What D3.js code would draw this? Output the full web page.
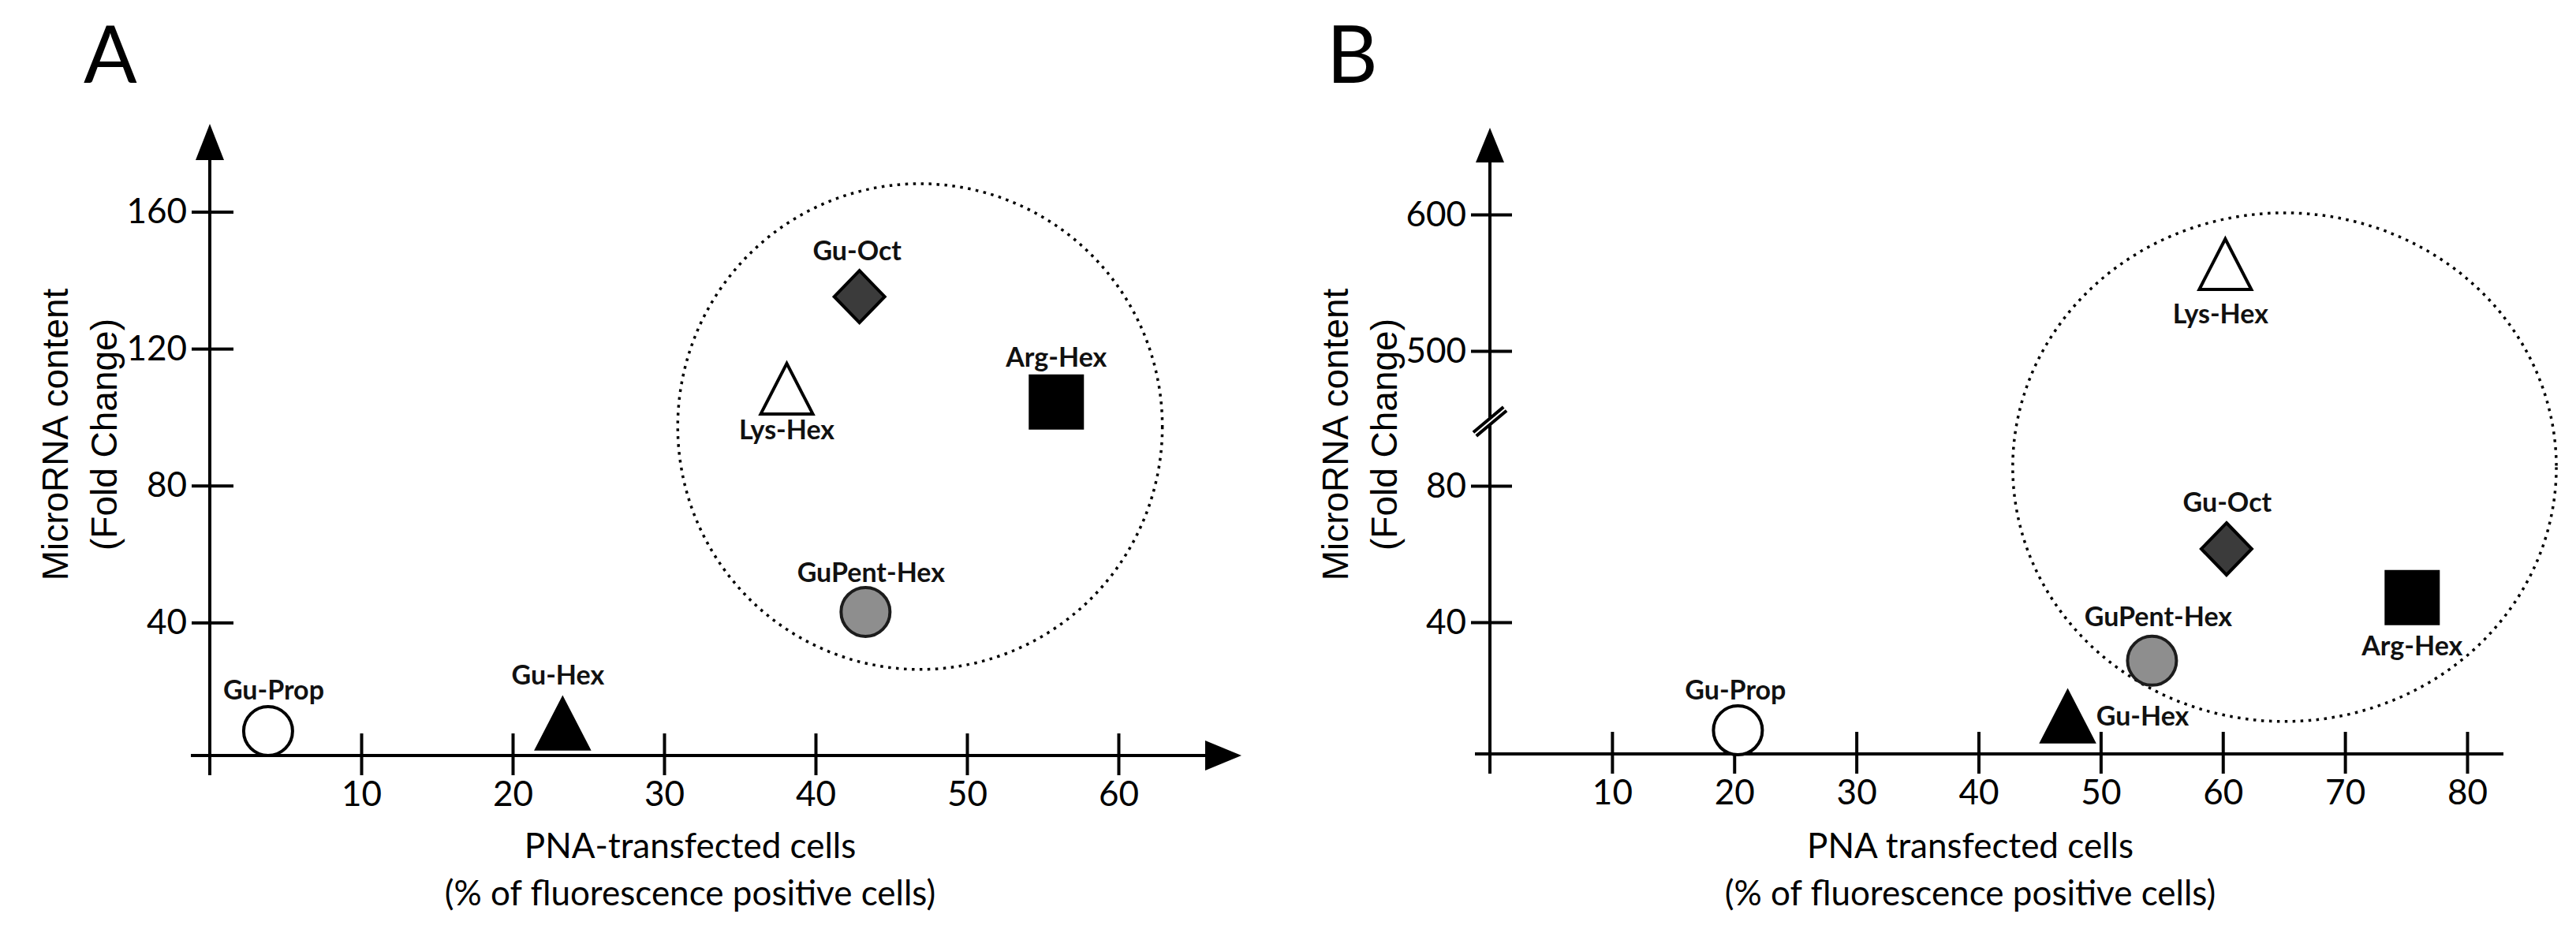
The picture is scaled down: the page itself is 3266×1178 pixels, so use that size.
<!DOCTYPE html>
<html>
<head>
<meta charset="utf-8">
<script src="https://cdn.jsdelivr.net/npm/d3@7"></script>
<style>
  body { margin: 0; background: #fff; }
  .tick text { font-family: Lato, sans-serif; font-size: 44px; fill: #000; }
  .tick line { stroke: #000; stroke-width: 4px; }
  .axis-title { font-family: Lato, sans-serif; font-size: 44px; fill: #000; }
  .y-title { font-family: "Liberation Sans", Arial, sans-serif; font-size: 46px; fill: #000; }
  .panel-letter { font-family: Lato, sans-serif; font-size: 100px; fill: #000; }
  .point-label { font-family: Lato, sans-serif; font-weight: bold; font-size: 34px; fill: #111; }
</style>
</head>
<body>
<svg id="fig" width="3266" height="1178"></svg>
<script>
/* compounds, same order in both panels */
var compounds = ["Gu-Prop", "Gu-Hex", "Lys-Hex", "Gu-Oct", "GuPent-Hex", "Arg-Hex"];

/* panel A values */
var transfectedA = [3.85, 23.3, 38.1, 42.9, 43.3, 55.9];
var foldChangeA = [8.3, 10.4, 108.3, 135.2, 43.1, 104.4];
var xTicksA = [10, 20, 30, 40, 50, 60];
var yTicksA = [40, 80, 120, 160];
var circledA = [30.9, 62.9, 26.3, 168.2]; // x0, x1, y0, y1 (data units)

/* panel B values */
var transfectedB = [20.3, 47.3, 60.2, 60.3, 54.2, 75.5];
var foldChangeB = [8.3, 12.3, 563.6, 61.5, 28.7, 47.2];
var xTicksB = [10, 20, 30, 40, 50, 60, 70, 80];
var yTicksBLow = [40, 80];
var yTicksBHigh = [500, 600];
var circledB = [42.8, 87.3, 10.9, 601.2];

/* marker look + label placement (px, relative to marker) */
var markerShape = ["circle", "triangle", "triangle", "diamond", "circle", "square"];
var markerFill = ["#fff", "#000", "#fff", "#3b3b3b", "#8e8e8e", "#000"];
var labelOffsetA = [[7, -40], [-6, -50], [0, 64], [-3, -46], [7, -38], [0, -45]];
var labelOffsetB = [[-3, -39], [95, 11], [-6, 75], [1, -47], [8, -44], [0, 73]];

var svg = d3.select("#fig");

function markerPath(shape) {
  var p = d3.path();
  if (shape == "triangle") {
    p.moveTo(0, -32); p.lineTo(33, 32); p.lineTo(-33, 32); p.closePath();
  } else if (shape == "diamond") {
    p.moveTo(0, -33); p.lineTo(32, 0); p.lineTo(0, 33); p.lineTo(-32, 0); p.closePath();
  } else if (shape == "square") {
    p.rect(-33, -33, 66, 66);
  } else {
    p.arc(0, 0, 31, 0, 2 * Math.PI);
  }
  return p.toString();
}

function drawPoints(g, xs, ys, xScale, yFn, offsets) {
  var pts = compounds.map((name, i) => ({ name: name, x: xs[i], y: ys[i], i: i }));

  g.selectAll(".mark")
    .data(pts)
    .enter()
    .append("path")
    .attr("class", "mark")
    .attr("transform", d => `translate(${xScale(d.x)}, ${yFn(d.y)})`)
    .attr("d", d => markerPath(markerShape[d.i]))
    .style("fill", d => markerFill[d.i])
    .style("stroke", d => (d.i == 4 ? "#1c1c1c" : "#000"))
    .style("stroke-width", 4);

  g.selectAll(".point-label")
    .data(pts)
    .enter()
    .append("text")
    .attr("class", "point-label")
    .attr("text-anchor", "middle")
    .attr("x", d => xScale(d.x) + offsets[d.i][0])
    .attr("y", d => yFn(d.y) + offsets[d.i][1])
    .text(d => d.name);
}

function dottedEllipse(g, box, xScale, yFn) {
  var x0 = xScale(box[0]), x1 = xScale(box[1]);
  var y0 = yFn(box[2]), y1 = yFn(box[3]);
  g.append("ellipse")
    .attr("cx", (x0 + x1) / 2)
    .attr("cy", (y0 + y1) / 2)
    .attr("rx", Math.abs(x1 - x0) / 2)
    .attr("ry", Math.abs(y1 - y0) / 2)
    .style("fill", "none")
    .style("stroke", "#000")
    .style("stroke-width", 3.5)
    .style("stroke-dasharray", "3.5 6.5");
}

function xTitle(g, cx, lines) {
  g.selectAll(".axis-title.x")
    .data(lines)
    .enter()
    .append("text")
    .attr("class", "axis-title x")
    .attr("text-anchor", "middle")
    .attr("x", cx)
    .attr("y", (d, i) => 1088 + i * 60)
    .text(d => d);
}

function yTitle(g, axisX, cy) {
  g.append("text")
    .attr("class", "y-title")
    .attr("text-anchor", "middle")
    .attr("transform", `translate(${axisX - 180}, ${cy}) rotate(-90)`)
    .text("MicroRNA content");
  g.append("text")
    .attr("class", "y-title")
    .attr("text-anchor", "middle")
    .attr("transform", `translate(${axisX - 118}, ${cy}) rotate(-90)`)
    .text("(Fold Change)");
}

function line(g, x1, y1, x2, y2) {
  g.append("line")
    .attr("x1", x1).attr("y1", y1).attr("x2", x2).attr("y2", y2)
    .style("stroke", "#000")
    .style("stroke-width", 4);
}

/* ---------------- Panel A ---------------- */
var xA = d3.scaleLinear().domain([0, 60]).range([266, 1418]);
var yA = d3.scaleLinear().domain([0, 160]).range([963, 268.5]);
var axisYA = 958; // the drawn x axis sits a touch above zero
var gA = svg.append("g");

dottedEllipse(gA, circledA, xA, yA);

/* axis lines + arrows */
line(gA, xA(0), axisYA + 25, xA(0), 200);
gA.append("path")
  .attr("d", `M${xA(0)},157 L${xA(0) + 18},203 L${xA(0) - 18},203 Z`)
  .style("fill", "#000");
line(gA, 242, axisYA, 1530, axisYA);
gA.append("path")
  .attr("d", `M1574,${axisYA} L1528,${axisYA - 19} L1528,${axisYA + 19} Z`)
  .style("fill", "#000");

/* ticks */
gA.append("g")
  .attr("transform", `translate(0, ${axisYA})`)
  .call(d3.axisBottom(xA).tickValues(xTicksA).tickSize(25).tickPadding(8))
  .call(g => g.select(".domain").remove());
gA.append("g")
  .attr("transform", `translate(0, ${axisYA})`)
  .call(d3.axisTop(xA).tickValues(xTicksA).tickSize(28).tickFormat(""))
  .call(g => g.select(".domain").remove());
gA.append("g")
  .attr("transform", `translate(${xA(0)}, 0)`)
  .call(d3.axisLeft(yA).tickValues(yTicksA).tickSize(23).tickPadding(6))
  .call(g => g.select(".domain").remove());
gA.append("g")
  .attr("transform", `translate(${xA(0)}, 0)`)
  .call(d3.axisRight(yA).tickValues(yTicksA).tickSize(30).tickFormat(""))
  .call(g => g.select(".domain").remove());

xTitle(gA, 875, ["PNA-transfected cells", "(% of fluorescence positive cells)"]);
yTitle(gA, xA(0), 551);
gA.append("text").attr("class", "panel-letter").attr("x", 106).attr("y", 105).text("A");

drawPoints(gA, transfectedA, foldChangeA, xA, yA, labelOffsetA);

/* ---------------- Panel B (broken y axis) ---------------- */
var xB = d3.scaleLinear().domain([0, 80]).range([1889, 3128]);
var yBLow = d3.scaleLinear().domain([0, 80]).range([962, 616]);
var yBHigh = d3.scaleLinear().domain([500, 600]).range([445, 272]);
var yB = v => (v > 90 ? yBHigh(v) : yBLow(v));
var axisYB = 956;
var gB = svg.append("g");

dottedEllipse(gB, circledB, xB, yB);

line(gB, xB(0), axisYB + 25, xB(0), 205);
gB.append("path")
  .attr("d", `M${xB(0)},162 L${xB(0) + 18},206 L${xB(0) - 18},206 Z`)
  .style("fill", "#000");
line(gB, 1870, axisYB, 3174, axisYB);

gB.append("g")
  .attr("transform", `translate(0, ${axisYB})`)
  .call(d3.axisBottom(xB).tickValues(xTicksB).tickSize(25).tickPadding(8))
  .call(g => g.select(".domain").remove());
gB.append("g")
  .attr("transform", `translate(0, ${axisYB})`)
  .call(d3.axisTop(xB).tickValues(xTicksB).tickSize(28).tickFormat(""))
  .call(g => g.select(".domain").remove());
[[yBLow, yTicksBLow], [yBHigh, yTicksBHigh]].forEach(function(s) {
  gB.append("g")
    .attr("transform", `translate(${xB(0)}, 0)`)
    .call(d3.axisLeft(s[0]).tickValues(s[1]).tickSize(24).tickPadding(6))
    .call(g => g.select(".domain").remove());
  gB.append("g")
    .attr("transform", `translate(${xB(0)}, 0)`)
    .call(d3.axisRight(s[0]).tickValues(s[1]).tickSize(28).tickFormat(""))
    .call(g => g.select(".domain").remove());
});

/* break mark */
var breakY = (yBLow(80) + yBHigh(500)) / 2 + 4;
var brk = gB.append("g").attr("transform", `translate(${xB(0)}, ${breakY}) rotate(-40)`);
brk.append("rect").attr("x", -25).attr("y", -4).attr("width", 50).attr("height", 8).style("fill", "#fff");
line(brk, -25, -3, 25, -3);
line(brk, -25, 3, 25, 3);

xTitle(gB, 2498, ["PNA transfected cells", "(% of fluorescence positive cells)"]);
yTitle(gB, xB(0), 551);
gB.append("text").attr("class", "panel-letter").attr("x", 1682).attr("y", 105).text("B");

drawPoints(gB, transfectedB, foldChangeB, xB, yB, labelOffsetB);
</script>
</body>
</html>
